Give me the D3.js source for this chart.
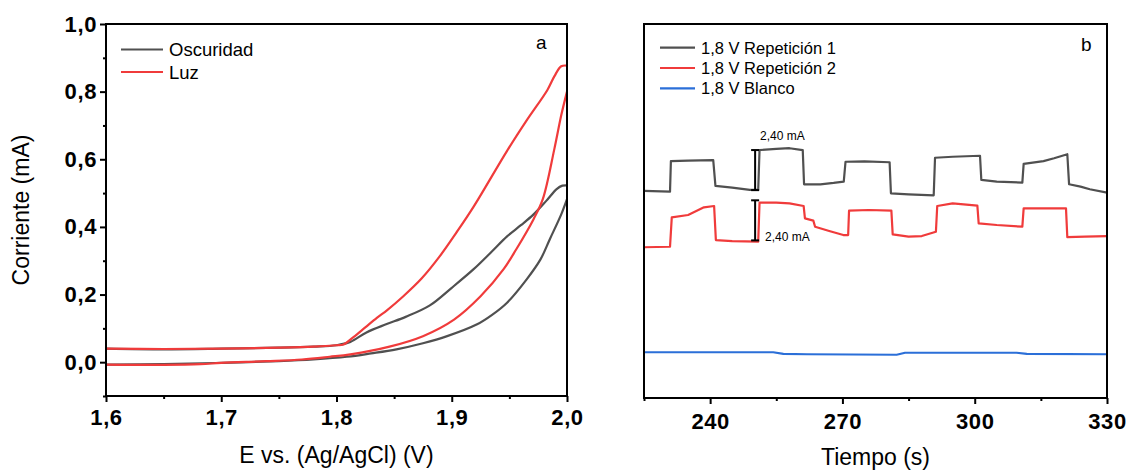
<!DOCTYPE html>
<html lang="es">
<head>
<meta charset="UTF-8">
<title>Voltametría y cronoamperometría</title>
<script src="https://d3js.org/d3.v7.min.js"></script>
<style>
    body { margin: 0; background: #ffffff; }
    svg { font-family: "Liberation Sans", Arial, sans-serif; }
    .tick text { font-weight: bold; font-size: 22px; letter-spacing: 0.6px; fill: #000; }
    .tick line { stroke: #000; stroke-width: 2; }
    .axis-title { font-size: 23px; }
    .legend-a { font-size: 18.5px; }
    .legend-b { font-size: 16.5px; }
    .panel-tag { font-size: 19px; }
    .note { font-size: 12px; }
</style>
</head>
<body>
<svg id="chart" width="1128" height="472"></svg>
<script>
// ---------- panel a: voltametria, Oscuridad / Luz ----------
const cvXTicks = [1.6, 1.7, 1.8, 1.9, 2.0];
const cvYTicks = [0.0, 0.2, 0.4, 0.6, 0.8, 1.0];

// [E (V), I (mA)], barrido de ida y de vuelta
const oscuridadIda = [[1.60,0.040],[1.65,0.038],[1.70,0.040],[1.75,0.043],[1.78,0.046],[1.80,0.050],[1.812,0.060],[1.826,0.088],[1.843,0.112],[1.860,0.134],[1.881,0.168],[1.900,0.220],[1.919,0.275],[1.935,0.328],[1.948,0.372],[1.960,0.405],[1.971,0.437],[1.982,0.477],[1.991,0.512],[1.996,0.522],[2.000,0.523]];
const oscuridadVuelta = [[2.000,0.482],[1.995,0.437],[1.985,0.363],[1.977,0.304],[1.965,0.245],[1.948,0.176],[1.935,0.140],[1.922,0.112],[1.896,0.077],[1.875,0.056],[1.852,0.038],[1.830,0.026],[1.809,0.016],[1.780,0.008],[1.750,0.003],[1.700,-0.002],[1.650,-0.006],[1.600,-0.007]];
const luzIda = [[1.60,0.040],[1.65,0.039],[1.70,0.040],[1.75,0.043],[1.78,0.046],[1.80,0.050],[1.806,0.052],[1.815,0.075],[1.825,0.103],[1.835,0.131],[1.844,0.154],[1.858,0.195],[1.874,0.248],[1.890,0.315],[1.904,0.383],[1.919,0.460],[1.948,0.625],[1.965,0.715],[1.983,0.805],[1.989,0.845],[1.995,0.875],[2.000,0.877]];
const luzVuelta = [[2.000,0.800],[1.995,0.730],[1.989,0.630],[1.979,0.482],[1.971,0.423],[1.956,0.334],[1.945,0.275],[1.925,0.195],[1.902,0.126],[1.875,0.077],[1.846,0.046],[1.812,0.023],[1.794,0.016],[1.770,0.008],[1.739,0.003],[1.700,-0.002],[1.682,-0.006],[1.650,-0.008],[1.600,-0.007]];

// ---------- panel b: corriente vs tiempo a 1,8 V ----------
const tXTicks = [240, 270, 300, 330];

// [t (s), I (mA)]
const repeticion1 = [[225,12.40],[230.9,12.36],[231.1,14.19],[235,14.22],[240.7,14.25],[241.2,12.70],[245,12.60],[249,12.46],[250.9,12.46],[251.2,14.85],[255,14.92],[258,14.96],[261,14.85],[261.3,12.80],[265,12.80],[268,12.88],[270.3,12.96],[270.7,14.15],[275,14.17],[280.7,14.12],[281.0,12.26],[285,12.20],[290.7,12.14],[291.0,14.39],[295,14.45],[301.2,14.51],[301.5,13.06],[305,12.96],[310.8,12.90],[311.1,14.02],[315.6,14.19],[318,14.36],[321.0,14.60],[321.4,12.80],[324,12.66],[326.1,12.50],[330,12.30]];
const repeticion2 = [[225,9.03],[230.9,9.06],[231.3,10.82],[235,10.96],[238.6,11.42],[240.9,11.50],[241.3,9.46],[245,9.40],[250.9,9.36],[251.2,11.70],[255,11.70],[258,11.66],[261.2,11.50],[261.5,10.76],[263.4,10.62],[263.8,10.26],[267,10.00],[270.2,9.76],[271.3,9.76],[271.5,11.22],[276,11.26],[281.1,11.22],[281.4,9.80],[285,9.66],[288,9.70],[291.2,9.96],[291.5,11.50],[295,11.66],[300.6,11.52],[300.9,10.46],[305,10.36],[310.8,10.26],[311.1,11.36],[320.7,11.36],[321.0,9.63],[325,9.66],[330,9.70]];
const blanco = [[225,2.74],[254.3,2.74],[256.6,2.64],[262,2.62],[282.3,2.59],[284.2,2.71],[309.5,2.71],[311.8,2.64],[330,2.62]];

// barras de escala de 2,40 mA
const saltos = [
    { t: 250.2, lo: 12.45, hi: 14.85, label: "2,40 mA", pos: "arriba" },
    { t: 250.2, lo: 9.44, hi: 11.84, label: "2,40 mA", pos: "abajo" }
];

const colores = { oscuro: "#505050", rojo: "#f03b3b", azul: "#2b6fd8" };
const coma = d => d3.format(".1f")(d).replace(".", ",");

const svg = d3.select("#chart");

function estilarEje(g) {
    g.attr("font-size", null).attr("font-family", null);
    g.select(".domain").remove();
}

// ===== panel a =====
function panelA() {
    const x = d3.scaleLinear().domain([1.6, 2.0]).range([106, 567]);
    const y = d3.scaleLinear().domain([-0.1, 1.0]).range([396, 24]);

    // ticks menores
    svg.append("g").attr("transform", "translate(0,396)")
        .call(d3.axisBottom(x).tickValues(d3.range(1.65, 2.0, 0.1)).tickSize(3).tickFormat(""))
        .call(estilarEje);
    svg.append("g").attr("transform", "translate(106,0)")
        .call(d3.axisLeft(y).tickValues(d3.range(-0.1, 1.0, 0.2)).tickSize(3).tickFormat(""))
        .call(estilarEje);

    svg.append("g").attr("transform", "translate(0,396)")
        .call(d3.axisBottom(x).tickValues(cvXTicks).tickSize(6).tickPadding(7).tickFormat(coma))
        .call(estilarEje);
    svg.append("g").attr("transform", "translate(106,0)")
        .call(d3.axisLeft(y).tickValues(cvYTicks).tickSize(6).tickPadding(3).tickFormat(coma))
        .call(estilarEje);

    const linea = d3.line().x(d => x(d[0])).y(d => y(d[1])).curve(d3.curveCatmullRom.alpha(0.5));
    const series = [
        [oscuridadIda, colores.oscuro], [oscuridadVuelta, colores.oscuro],
        [luzIda, colores.rojo], [luzVuelta, colores.rojo]
    ];
    series.forEach(([datos, color]) => {
        svg.append("path").attr("d", linea(datos))
            .attr("fill", "none").attr("stroke", color).attr("stroke-width", 2.2);
    });

    svg.append("rect").attr("x", 106).attr("y", 24).attr("width", 461).attr("height", 372)
        .attr("fill", "none").attr("stroke", "#000").attr("stroke-width", 2);

    // leyenda
    [["Oscuridad", colores.oscuro], ["Luz", colores.rojo]].forEach(([txt, c], i) => {
        const yy = 49.5 + i * 22.5;
        svg.append("line").attr("x1", 121).attr("x2", 163).attr("y1", yy).attr("y2", yy)
            .attr("stroke", c).attr("stroke-width", 2.2);
        svg.append("text").attr("class", "legend-a").attr("x", 169).attr("y", yy + 6.6).text(txt);
    });

    svg.append("text").attr("class", "panel-tag").attr("x", 536).attr("y", 49).text("a");

    svg.append("text").attr("class", "axis-title")
        .attr("x", x(1.8)).attr("y", 463).attr("text-anchor", "middle")
        .text("E vs. (Ag/AgCl) (V)");
    svg.append("text").attr("class", "axis-title")
        .attr("transform", `translate(29,${y(0.45)}) rotate(-90)`).attr("text-anchor", "middle")
        .text("Corriente (mA)");
}

// ===== panel b =====
function panelB() {
    const x = d3.scaleLinear().domain([225, 330]).range([644, 1107]);
    const y = d3.scaleLinear().domain([0, 22.4]).range([398, 24]);

    svg.append("g").attr("transform", "translate(0,398)")
        .call(d3.axisBottom(x).tickValues([225, 255, 285, 315]).tickSize(3).tickFormat(""))
        .call(estilarEje);
    svg.append("g").attr("transform", "translate(0,398)")
        .call(d3.axisBottom(x).tickValues(tXTicks).tickSize(6).tickPadding(9).tickFormat(d3.format("d")))
        .call(estilarEje);

    const linea = d3.line().x(d => x(d[0])).y(d => y(d[1]));
    [[repeticion1, colores.oscuro], [repeticion2, colores.rojo], [blanco, colores.azul]].forEach(([datos, c]) => {
        svg.append("path").attr("d", linea(datos))
            .attr("fill", "none").attr("stroke", c).attr("stroke-width", 2.2)
            .attr("stroke-linejoin", "round");
    });

    // barras de escala
    saltos.forEach(s => {
        const g = svg.append("g").attr("stroke", "#000").attr("stroke-width", 2);
        g.append("line").attr("x1", x(s.t)).attr("x2", x(s.t)).attr("y1", y(s.lo)).attr("y2", y(s.hi));
        [s.lo, s.hi].forEach(v => g.append("line")
            .attr("x1", x(s.t) - 4).attr("x2", x(s.t) + 4).attr("y1", y(v)).attr("y2", y(v)));
        if (s.pos === "arriba") {
            svg.append("text").attr("class", "note").attr("x", x(s.t) + 5).attr("y", y(s.hi) - 10).text(s.label);
        } else {
            svg.append("text").attr("class", "note").attr("x", x(s.t) + 10).attr("y", y(s.lo) + 1).text(s.label);
        }
    });

    svg.append("rect").attr("x", 644).attr("y", 24).attr("width", 463).attr("height", 374)
        .attr("fill", "none").attr("stroke", "#000").attr("stroke-width", 2);

    [["1,8 V Repetición 1", colores.oscuro], ["1,8 V Repetición 2", colores.rojo], ["1,8 V Blanco", colores.azul]]
        .forEach(([txt, c], i) => {
            const yy = 47.7 + i * 20.3;
            svg.append("line").attr("x1", 660).attr("x2", 695).attr("y1", yy).attr("y2", yy)
                .attr("stroke", c).attr("stroke-width", 2.2);
            svg.append("text").attr("class", "legend-b").attr("x", 701).attr("y", yy + 6).text(txt);
        });

    svg.append("text").attr("class", "panel-tag").attr("x", 1081).attr("y", 51).text("b");

    svg.append("text").attr("class", "axis-title")
        .attr("x", (644 + 1107) / 2).attr("y", 465).attr("text-anchor", "middle")
        .text("Tiempo (s)");
}

panelA();
panelB();
</script>
</body>
</html>
